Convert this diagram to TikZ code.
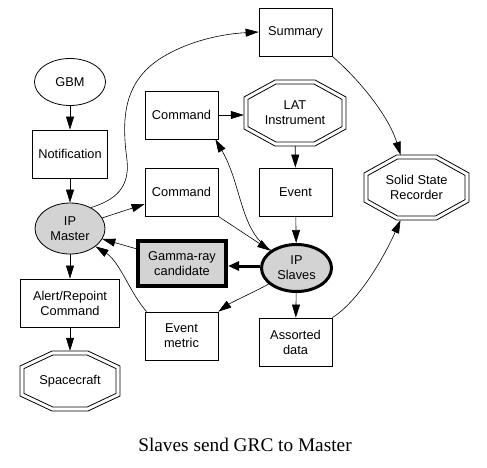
\documentclass[tikz,border=0pt]{standalone}
\usepackage{fontspec}
\setmainfont{Liberation Sans}
\newfontfamily\capfont{Liberation Serif}
\usetikzlibrary{shapes.geometric,arrows.meta,calc}
\definecolor{lgray}{HTML}{D3D3D3}
\newcommand{\diagfont}{\fontsize{12.8}{15}\selectfont}
% double octagon drawn around a named node: name, W, H, a, b (half sizes)
\newcommand{\dbloct}[5]{%
  \pgfmathsetmacro{\octdx}{#2-#4}%
  \pgfmathsetmacro{\octdy}{#3-#5}%
  \pgfmathsetmacro{\octlen}{sqrt(\octdx*\octdx+\octdy*\octdy)}%
  \pgfmathsetmacro{\octnx}{\octdy/\octlen}%
  \pgfmathsetmacro{\octny}{\octdx/\octlen}%
  \pgfmathsetmacro{\octc}{\octnx*#4+\octny*#3-4}%
  \pgfmathsetmacro{\octai}{(\octc-\octny*(#3-4))/\octnx}%
  \pgfmathsetmacro{\octbi}{(\octc-\octnx*(#2-4))/\octny}%
  \pgfmathsetmacro{\octWi}{#2-4}%
  \pgfmathsetmacro{\octHi}{#3-4}%
  \begin{scope}[shift={(#1.center)}]
    \draw[line width=0.8pt] (-#4,-#3) -- (#4,-#3) -- (#2,-#5) -- (#2,#5) -- (#4,#3) -- (-#4,#3) -- (-#2,#5) -- (-#2,-#5) -- cycle;
    \draw[line width=0.8pt] (-\octai,-\octHi) -- (\octai,-\octHi) -- (\octWi,-\octbi) -- (\octWi,\octbi) -- (\octai,\octHi) -- (-\octai,\octHi) -- (-\octWi,\octbi) -- (-\octWi,-\octbi) -- cycle;
  \end{scope}}
\tikzset{
  box/.style={draw, line width=0.8pt, minimum width=73pt, minimum height=48pt, inner sep=0pt, align=center, font=\diagfont},
  ell/.style={ellipse, draw, line width=0.8pt, inner sep=0pt, align=center, font=\diagfont},
  octo/.style 2 args={inner sep=0pt, align=center, font=\diagfont, minimum width=#1, minimum height=#2},
  arr/.style={line width=0.6pt, -{Triangle[length=13pt,width=8pt]}},
  thickarr/.style={line width=3pt, -{Triangle[length=11pt,width=9pt]}},
}
\begin{document}
\begin{tikzpicture}[x=1pt,y=-1pt]
\useasboundingbox[fill=white] (0,0) rectangle (487,467);
% left column
\node[ell, minimum width=71pt, minimum height=47pt] (gbm) at (70,82) {GBM};
\node[box, minimum width=75pt] (notif) at (70,154) {Notification};
\node[ell, fill=lgray, minimum width=70pt, minimum height=51pt] (master) at (70,228.5) {IP\\Master};
\node[box, minimum width=99pt] (alert) at (70,303) {Alert/Repoint\\Command};
\node[octo={100pt}{60pt}] (space) at (70,381) {Spacecraft};
\dbloct{space}{50}{30}{18}{15}
% middle column
\node[box] (cmd1) at (181.5,115) {Command};
\node[box] (cmd2) at (181.5,192) {Command};
\node[box, fill=lgray, line width=4pt, minimum width=88pt, minimum height=45pt] (gamma) at (182,263.7) {Gamma-ray\\candidate};
\node[box] (metric) at (181.5,336) {Event\\metric};
% right-middle column
\node[box] (summary) at (295.5,32) {Summary};
\node[octo={102pt}{66pt}] (lat) at (295,113) {LAT\\Instrument};
\dbloct{lat}{51}{33}{20}{16}
\node[box] (event) at (295.5,192) {Event};
\node[ell, fill=lgray, line width=3pt, minimum width=70pt, minimum height=47pt] (slaves) at (296.5,268) {IP\\Slaves};
\node[box] (assorted) at (295.5,342) {Assorted\\data};
% right
\node[octo={105pt}{65pt}] (ssr) at (416.5,187.5) {Solid State\\Recorder};
\dbloct{ssr}{52.5}{32.5}{20}{14.5}
% caption
\node (cap) at (245,445) {\capfont\fontsize{19.3}{22}\selectfont Slaves send GRC to Master};
% edges
\draw[arr] (gbm) -- (notif);
\draw[arr] (notif) -- (master);
\draw[arr] (master) -- (alert);
\draw[arr] (alert) -- (space);
\draw[arr] (master) -- (cmd2);
\draw[arr] (master.45) .. controls (115,200) and (130,188) .. (127,160)
  .. controls (122,122) and (122,85) .. (158,60)
  .. controls (185,42) and (220,34) .. (summary.west);
\draw[arr] (cmd1.east) -- (cmd1.east -| lat.west);
\draw[arr] (lat) -- (event);
\draw[arr] (event) -- (slaves);
\draw[arr] (cmd2.south east) -- (slaves);
\draw[arr] (slaves.145) .. controls (240,232) and (242,185) .. ([xshift=-3pt]cmd1.south east);
\draw[thickarr] ([yshift=2pt]slaves.west) -- ([yshift=2pt]slaves.west -| gamma.east);
\draw[arr] ([yshift=15pt]gamma.west) -- (master.-18);
\draw[arr] (slaves.210) .. controls (250,294) and (232,302) .. (metric.north east);
\draw[arr] ([xshift=2pt]metric.north west) .. controls (130,293) and (120,262) .. (master.-35);
\draw[arr] (slaves) -- (assorted);
\draw[arr] (assorted.north east) .. controls (360,300) and (385,255) .. ([xshift=-16pt]ssr.south);
\draw[arr] (summary.south east) .. controls (365,85) and (390,120) .. ([xshift=-16pt]ssr.north);
\end{tikzpicture}
\end{document}
